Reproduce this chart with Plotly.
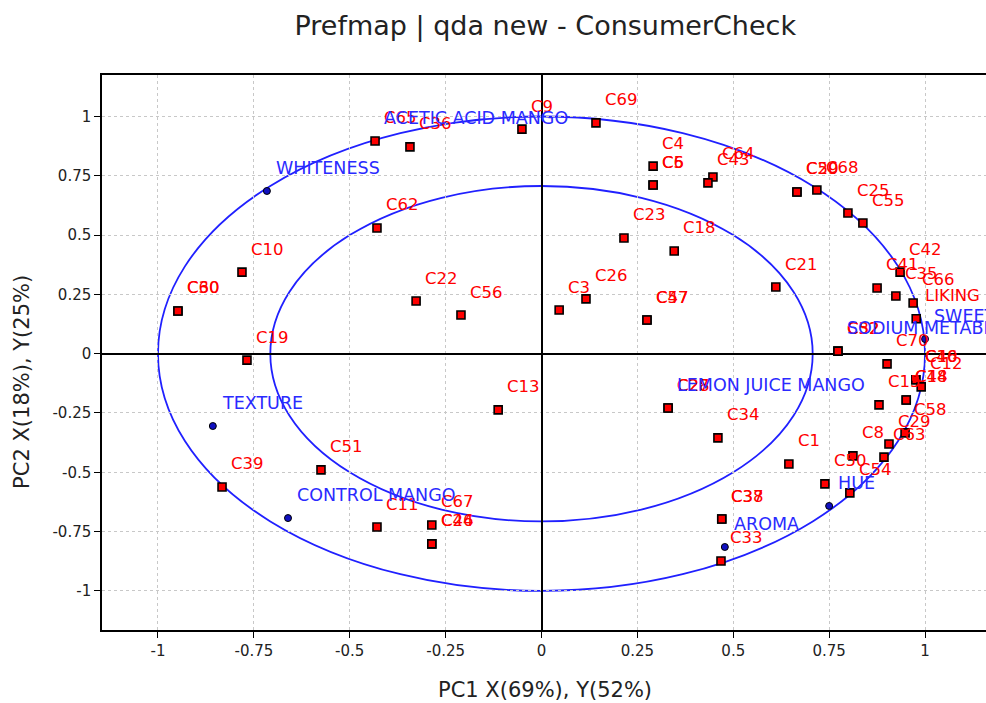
import plotly.graph_objects as go

# ---- data ----
consumer_labels = ["C69", "C9", "C65", "C36", "C4", "C5", "C6", "C64", "C43", "C59", "C20",
                   "C68", "C25", "C55", "C62", "C23", "C18", "C10", "C42", "C41", "C21",
                   "C35", "C66", "LIKING", "C26", "C3", "C47", "C57", "C22", "C56", "C30",
                   "C60", "C19", "C52", "C32", "C70", "C40", "C16", "C12", "C48", "C14",
                   "C15", "C13", "C27", "C28", "C34", "C1", "C58", "C29", "C63", "C8",
                   "C50", "C54", "C37", "C38", "C33", "C51", "C39", "C11", "C67", "C24", "C46"]
consumer_x = [0.142, -0.051, -0.434, -0.343, 0.291, 0.291, 0.291, 0.447, 0.434, 0.666, 0.666,
              0.718, 0.799, 0.838, -0.429, 0.215, 0.346, -0.781, 0.935, 0.875, 0.611,
              0.924, 0.969, 0.977, 0.116, 0.046, 0.275, 0.275, -0.327, -0.210, -0.948,
              -0.948, -0.768, 0.773, 0.773, 0.901, 0.976, 0.976, 0.990, 0.951, 0.951,
              0.880, -0.113, 0.330, 0.330, 0.460, 0.645, 0.948, 0.906, 0.893, 0.812,
              0.739, 0.804, 0.470, 0.470, 0.468, -0.575, -0.833, -0.429, -0.286, -0.286, -0.286]
consumer_y = [0.973, 0.947, 0.897, 0.872, 0.791, 0.711, 0.711, 0.745, 0.720, 0.682, 0.682,
              0.690, 0.593, 0.551, 0.530, 0.488, 0.433, 0.344, 0.344, 0.277, 0.281,
              0.243, 0.214, 0.147, 0.231, 0.184, 0.142, 0.142, 0.222, 0.163, 0.180,
              0.180, -0.027, 0.011, 0.011, -0.043, -0.110, -0.110, -0.140, -0.195, -0.195,
              -0.216, -0.237, -0.229, -0.229, -0.355, -0.465, -0.334, -0.381, -0.436, -0.431,
              -0.549, -0.587, -0.697, -0.697, -0.874, -0.490, -0.562, -0.731, -0.722, -0.802, -0.802]

attribute_labels = ["WHITENESS", "ACETIC ACID MANGO", "TEXTURE", "CONTROL MANGO",
                    "LEMON JUICE MANGO", "SODIUM METABISULFITE MANGO", "SWEETNESS", "HUE", "AROMA"]
attribute_x = [-0.716, -0.434, -0.857, -0.661, 0.330, 0.773, 1.000, 0.750, 0.478]
attribute_y = [0.686, 0.897, -0.305, -0.693, -0.229, 0.011, 0.062, -0.642, -0.815]

circle_radii = [1.0, 0.7071]
tick_vals = [-1, -0.75, -0.5, -0.25, 0, 0.25, 0.5, 0.75, 1]
tick_text = ["-1", "-0.75", "-0.5", "-0.25", "0", "0.25", "0.5", "0.75", "1"]

FONT = "DejaVu Sans"
RED = "#ff0000"
BLUE = "#2a2aff"

fig = go.Figure()

# attribute points (blue dots)
fig.add_trace(go.Scatter(
    x=attribute_x, y=attribute_y, mode="markers",
    marker=dict(symbol="circle", size=7, color="#1010c0", line=dict(color="#000000", width=1)),
    hoverinfo="text", hovertext=attribute_labels, showlegend=False))

# consumer points (red squares)
fig.add_trace(go.Scatter(
    x=consumer_x, y=consumer_y, mode="markers",
    marker=dict(symbol="square", size=8, color=RED, line=dict(color="#000000", width=1.6)),
    hoverinfo="text", hovertext=consumer_labels, showlegend=False))

annotations = []
for lab, xv, yv in zip(consumer_labels, consumer_x, consumer_y):
    annotations.append(dict(x=xv, y=yv, xref="x", yref="y", text=lab, showarrow=False,
                            xanchor="left", yanchor="middle", xshift=7, yshift=23,
                            font=dict(family=FONT, size=16.5, color=RED)))
for lab, xv, yv in zip(attribute_labels, attribute_x, attribute_y):
    annotations.append(dict(x=xv, y=yv, xref="x", yref="y", text=lab, showarrow=False,
                            xanchor="left", yanchor="middle", xshift=7, yshift=23,
                            font=dict(family=FONT, size=17.5, color=BLUE)))

# axis titles
annotations.append(dict(text="PC1 X(69%), Y(52%)", xref="paper", yref="paper",
                        x=0.5006, y=-0.108, xanchor="center", yanchor="middle", showarrow=False,
                        font=dict(family=FONT, size=21, color="#222222")))
annotations.append(dict(text="PC2 X(18%), Y(25%)", xref="paper", yref="paper",
                        x=-0.0905, y=0.447, xanchor="center", yanchor="middle", showarrow=False,
                        textangle=-90, font=dict(family=FONT, size=21, color="#222222")))

shapes = []
for r in circle_radii:
    shapes.append(dict(type="circle", xref="x", yref="y", x0=-r, x1=r, y0=-r, y1=r,
                       line=dict(color="#2020ff", width=1.8), layer="below"))

fig.update_layout(
    width=986, height=703,
    margin=dict(l=102, r=0, t=75, b=73),
    paper_bgcolor="white", plot_bgcolor="white",
    title=dict(text="Prefmap | qda new - ConsumerCheck", x=0.553, xanchor="center",
               y=0.964, yanchor="middle", xref="container", yref="container",
               font=dict(family=FONT, size=27, color="#222222")),
    annotations=annotations,
    shapes=shapes,
    xaxis=dict(range=[-1.146, 1.159], tickvals=tick_vals, ticktext=tick_text,
               showgrid=True, gridcolor="#c8c8c8", griddash="dot", gridwidth=1,
               zeroline=True, zerolinecolor="#000000", zerolinewidth=1.5,
               showline=True, linecolor="#000000", linewidth=1.5, mirror=True,
               ticks="outside", ticklen=6, tickcolor="#000000",
               tickfont=dict(family=FONT, size=15, color="#222222")),
    yaxis=dict(range=[-1.165, 1.175], tickvals=tick_vals, ticktext=tick_text,
               showgrid=True, gridcolor="#c8c8c8", griddash="dot", gridwidth=1,
               zeroline=True, zerolinecolor="#000000", zerolinewidth=1.5,
               showline=True, linecolor="#000000", linewidth=1.5, mirror=False,
               ticks="outside", ticklen=6, tickcolor="#000000",
               tickfont=dict(family=FONT, size=15, color="#222222")),
)

fig.write_html("out.html")
